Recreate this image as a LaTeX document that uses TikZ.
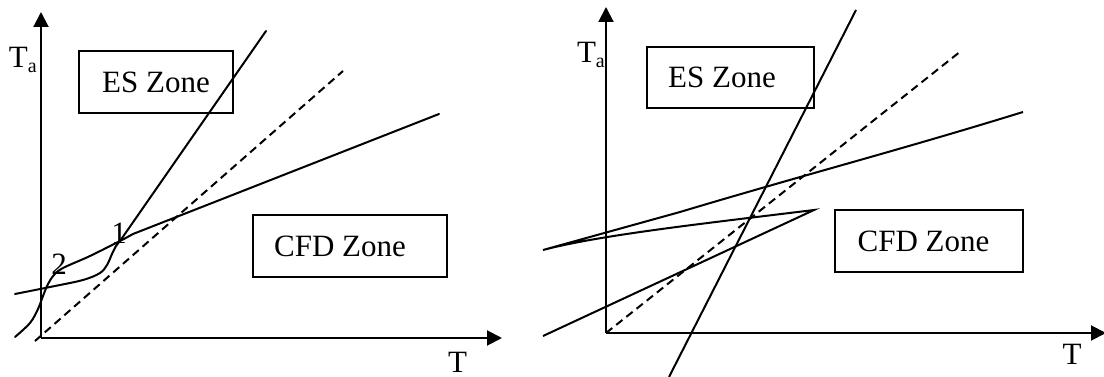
\documentclass[tikz,border=0pt]{standalone}
\usepackage{fontspec}
\setmainfont{Liberation Serif}
\usetikzlibrary{arrows.meta}
\newcommand{\bigtxt}{\fontsize{31}{36}\selectfont}
\newcommand{\subtxt}{\fontsize{20}{22}\selectfont}
\begin{document}
\begin{tikzpicture}[x=1pt,y=-1pt,
  every path/.style={line width=2pt},
  lbl/.style={font=\bigtxt, inner sep=0pt},
  zonebox/.style={draw, line width=2pt, inner sep=0pt, font=\bigtxt},
  axisarrow/.style={-{Triangle[length=15pt,width=15pt]}},
  dashline/.style={dash pattern=on 8pt off 5pt},
  curve/.style={line join=round, line cap=round}]
\useasboundingbox (0,0) rectangle (1104,377);
% ---------------- left panel ----------------
\coordinate (o1) at (41,338);
\coordinate (ytop1) at (41,12);
\coordinate (xend1) at (502,338);
\draw[axisarrow] (o1) -- (ytop1);
\draw[axisarrow] (o1) -- (xend1);
\node[lbl, anchor=base west] (ta1) at (8,68) {T\raisebox{-5pt}{\subtxt a}};
\node[lbl] (t1) at (457.5,362) {T};
\node[zonebox, minimum width=154pt, minimum height=62pt] (es1) at (156,82) {ES Zone};
\node[zonebox, minimum width=194pt, minimum height=62pt] (cfd1) at (350,246) {\hspace*{-20pt}CFD Zone};
% dashed diagonal
\coordinate (d1a) at (35,341);
\coordinate (d1b) at (343,71);
\draw[dashline] (d1a) -- (d1b);
% points
\coordinate (p1) at (120,241);
\coordinate (s1end) at (266,31);
\coordinate (sh1end) at (439,114);
% curve B: low branch into point 1, then steep line
\draw[curve] plot[smooth, tension=0.55] coordinates {(15,294) (50,287) (83,280) (100,273) (107,265) (112,254) (116,246) (p1)} -- (s1end);
% curve A: S-curve through point 2 to point 1, then shallow line
\draw[curve] plot[smooth, tension=0.55] coordinates {(15,337) (30,323) (38,309) (43,296) (48,284) (54,275) (63,268) (90,256) (p1) (133,234)} -- (sh1end);
\node[lbl] (n1) at (119,233) {1};
\node[lbl] (n2) at (59,264) {2};
% ---------------- right panel ----------------
\coordinate (o2) at (606,333);
\coordinate (ytop2) at (606,7);
\coordinate (xend2) at (1106,333);
\draw[axisarrow] (o2) -- (ytop2);
\draw[axisarrow] (o2) -- (xend2);
\node[lbl, anchor=base west] (ta2) at (576,63) {T\raisebox{-5pt}{\subtxt a}};
\node[lbl] (t2) at (1072,354) {T};
\node[zonebox, minimum width=167pt, minimum height=61pt] (es2) at (730.5,77.5) {\hspace*{-17pt}ES Zone};
\node[zonebox, minimum width=188pt, minimum height=62pt] (cfd2) at (929,241) {\hspace*{-11pt}CFD Zone};
\coordinate (d2b) at (961,51);
\draw[dashline] (o2) -- (d2b);
\coordinate (sa) at (669,377);
\coordinate (sb) at (856,10);
\draw (sa) -- (sb);
\coordinate (za) at (543,336);
\coordinate (zb) at (814,210);
\coordinate (zc) at (543,250);
\coordinate (zd) at (1023,112);
\draw[line join=miter] (za) -- (zb) .. controls (700,224) and (600,235) .. (zc) -- (680,212) .. controls (800,176) and (900,150) .. (zd);
\end{tikzpicture}
\end{document}
